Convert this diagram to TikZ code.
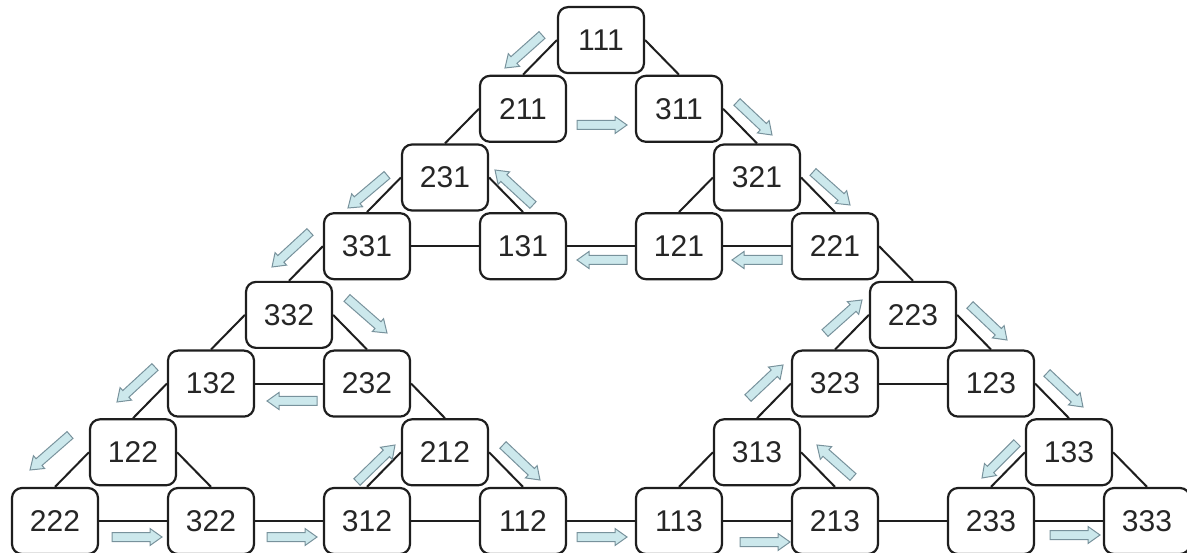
\documentclass[tikz,border=0pt]{standalone}
\usepackage{fontspec}
\setmainfont{Liberation Sans}
\usetikzlibrary{calc}
\pgfdeclarelayer{background}
\pgfsetlayers{background,main}
\definecolor{arrfill}{RGB}{204,232,236}
\definecolor{arrline}{RGB}{120,146,156}
\definecolor{boxline}{RGB}{30,30,30}
\tikzset{
  st/.style={draw=boxline, line width=2.2pt, fill=white, rounded corners=10pt,
    minimum width=86pt, minimum height=66pt, inner sep=0pt,
    font=\fontsize{30}{36}\selectfont, text=black!85},
  edge/.style={draw=boxline, line width=2pt},
  barrow/.style={fill=arrfill, draw=arrline, line width=1pt, line join=miter},
}
\newcommand\blockarr[3]{%
  \coordinate (#1t) at (#2);
  \coordinate (#1p) at (#3);
  \coordinate (#1h) at ($(#1p)!12pt!(#1t)$);
  \filldraw[barrow] ($(#1t)!4.5pt!90:(#1p)$) -- ($(#1h)!4.5pt!90:(#1p)$)
    -- ($(#1h)!8.5pt!90:(#1p)$) -- (#1p) -- ($(#1h)!8.5pt!-90:(#1p)$)
    -- ($(#1h)!4.5pt!-90:(#1p)$) -- ($(#1t)!4.5pt!-90:(#1p)$) -- cycle;
}
\begin{document}
\begin{tikzpicture}[x=1pt,y=-1pt]
\useasboundingbox (0,0) rectangle (1187,553);
% level 7
\node[st] (n111) at (601,40.1) {111};
% level 6
\node[st] (n211) at (523,108.8) {211};
\node[st] (n311) at (679,108.8) {311};
% level 5
\node[st] (n231) at (445,177.5) {231};
\node[st] (n321) at (757,177.5) {321};
% level 4
\node[st] (n331) at (367,246.2) {331};
\node[st] (n131) at (523,246.2) {131};
\node[st] (n121) at (679,246.2) {121};
\node[st] (n221) at (835,246.2) {221};
% level 3
\node[st] (n332) at (289,314.9) {332};
\node[st] (n223) at (913,314.9) {223};
% level 2
\node[st] (n132) at (211,383.6) {132};
\node[st] (n232) at (367,383.6) {232};
\node[st] (n323) at (835,383.6) {323};
\node[st] (n123) at (991,383.6) {123};
% level 1
\node[st] (n122) at (133,452.3) {122};
\node[st] (n212) at (445,452.3) {212};
\node[st] (n313) at (757,452.3) {313};
\node[st] (n133) at (1069,452.3) {133};
% level 0
\node[st] (n222) at (55,521) {222};
\node[st] (n322) at (211,521) {322};
\node[st] (n312) at (367,521) {312};
\node[st] (n112) at (523,521) {112};
\node[st] (n113) at (679,521) {113};
\node[st] (n213) at (835,521) {213};
\node[st] (n233) at (991,521) {233};
\node[st] (n333) at (1147,521) {333};

\begin{pgfonlayer}{background}
% down-left edges
\foreach \a/\b in {111/211,211/231,231/331,331/332,332/132,132/122,122/222,
                   321/121,212/312,223/323,323/313,313/113,133/233}
  \draw[edge] (n\a.west) -- (n\b.north);
% down-right edges
\foreach \a/\b in {111/311,311/321,321/221,231/131,221/223,332/232,232/212,
                   122/322,212/112,223/123,123/133,313/213,133/333}
  \draw[edge] (n\a.east) -- (n\b.north);
% horizontal edges
\foreach \a/\b in {331/131,131/121,121/221,132/232,323/123,222/322,322/312,
                   312/112,112/113,113/213,213/233,233/333}
  \draw[edge] (n\a.east) -- (n\b.west);
\end{pgfonlayer}

% block arrows (tail, tip)
\blockarr{a1}{542,35}{505,68}
\blockarr{a2}{577,125}{627,125}
\blockarr{a3}{737,102}{772,135}
\blockarr{a4}{813,172}{850,205}
\blockarr{a5}{782,260}{732,260}
\blockarr{a6}{627,260}{577,260}
\blockarr{a7}{533,205}{495,170}
\blockarr{a8}{387,175}{348,208}
\blockarr{a9}{310,232}{272,267}
\blockarr{a10}{347,298}{387,333}
\blockarr{a11}{317,401}{267,401}
\blockarr{a12}{155,367}{117,402}
\blockarr{a13}{70,435}{30,470}
\blockarr{a14}{112,537}{162,537}
\blockarr{a15}{267,537}{317,537}
\blockarr{a16}{357,482}{395,445}
\blockarr{a17}{503,445}{540,480}
\blockarr{a18}{577,537}{627,537}
\blockarr{a19}{740,542}{790,542}
\blockarr{a20}{853,477}{817,445}
\blockarr{a21}{748,398}{783,365}
\blockarr{a22}{825,333}{862,300}
\blockarr{a23}{970,305}{1007,340}
\blockarr{a24}{1047,373}{1083,407}
\blockarr{a25}{1017,443}{982,478}
\blockarr{a26}{1050,535}{1100,535}
\end{tikzpicture}
\end{document}
